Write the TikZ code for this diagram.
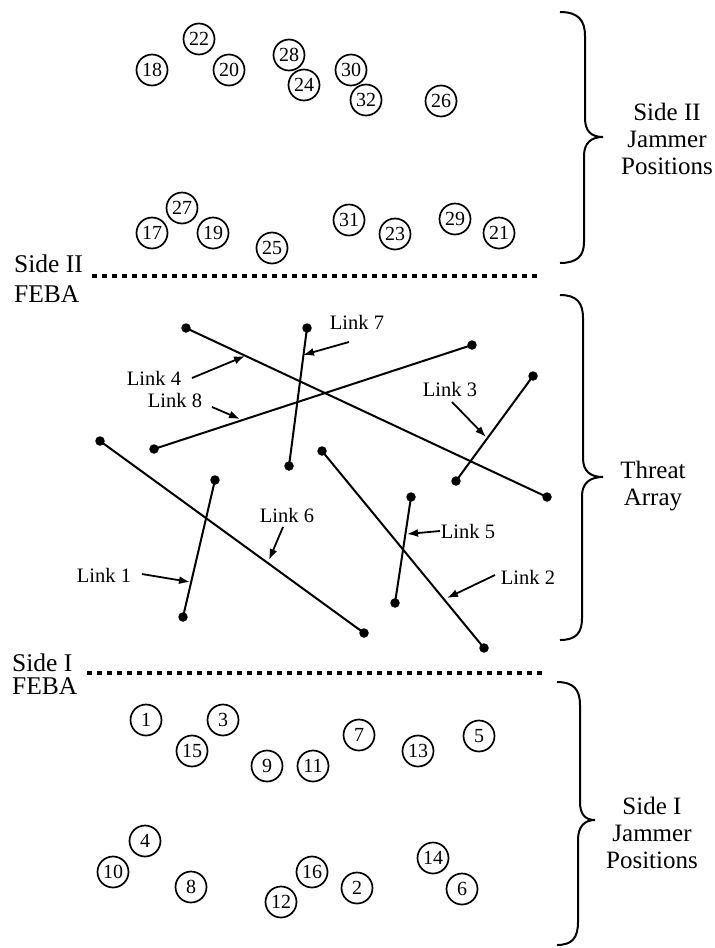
\documentclass[tikz,border=0pt]{standalone}
\usepackage{fontspec}
\setmainfont{Liberation Serif}
\usetikzlibrary{arrows.meta}
\tikzset{
  jam/.style={circle,draw,line width=1.7pt,minimum size=31pt,inner sep=0pt,font=\fontsize{20}{20}\selectfont},
  dotnode/.style={circle,fill,inner sep=0pt,minimum size=9.5pt},
  linkline/.style={line width=2pt},
  lbl/.style={inner sep=0pt,font=\fontsize{20.5}{20.5}\selectfont},
  arr/.style={line width=1.8pt,-{Latex[length=11pt,width=8pt]}},
  feba/.style={line width=4.5pt,dash pattern=on 4.5pt off 5.5pt},
  brace/.style={line width=2pt},
  side/.style={inner sep=0pt,align=center,font=\fontsize{25}{27}\selectfont}
}
\begin{document}
\begin{tikzpicture}[x=1pt,y=-1pt]
\useasboundingbox (0,0) rectangle (715,948);
% Side II jammers
\node[jam] (j22) at (199,39) {22};
\node[jam] (j18) at (152,70) {18};
\node[jam] (j20) at (229,70) {20};
\node[jam] (j28) at (289,55) {28};
\node[jam] (j24) at (304,85) {24};
\node[jam] (j30) at (351,70) {30};
\node[jam] (j32) at (366,100) {32};
\node[jam] (j26) at (441,101) {26};
\node[jam] (j27) at (182,208) {27};
\node[jam] (j17) at (152,233) {17};
\node[jam] (j19) at (213,233) {19};
\node[jam] (j25) at (272,248) {25};
\node[jam] (j31) at (349,220) {31};
\node[jam] (j23) at (395,234) {23};
\node[jam] (j29) at (455,219) {29};
\node[jam] (j21) at (499,233) {21};
% Side I jammers
\node[jam] (j1) at (146,720) {1};
\node[jam] (j3) at (223,720) {3};
\node[jam] (j15) at (192,751) {15};
\node[jam] (j9) at (267,766) {9};
\node[jam] (j11) at (313,766) {11};
\node[jam] (j7) at (359,735) {7};
\node[jam] (j13) at (418,751) {13};
\node[jam] (j5) at (479,736) {5};
\node[jam] (j4) at (145,841) {4};
\node[jam] (j10) at (113,872) {10};
\node[jam] (j8) at (191,887) {8};
\node[jam] (j16) at (312,872) {16};
\node[jam] (j12) at (281,902) {12};
\node[jam] (j2) at (357,888) {2};
\node[jam] (j14) at (433,858) {14};
\node[jam] (j6) at (462,889) {6};
% FEBA lines
\coordinate (f2a) at (92,276);
\coordinate (f2b) at (540,276);
\draw[feba] (f2a) -- (f2b);
\coordinate (f1a) at (87,673);
\coordinate (f1b) at (543,673);
\draw[feba] (f1a) -- (f1b);
\node[inner sep=0pt,align=left,anchor=west,font=\fontsize{25.5}{30}\selectfont] (s2) at (14,279) {Side II\\FEBA};
\node[inner sep=0pt,align=left,anchor=west,font=\fontsize{25.5}{23}\selectfont] (s1) at (12,674) {Side I\\FEBA};
% Link endpoints
\node[dotnode] (a4) at (186,328) {};
\node[dotnode] (b4) at (547,497) {};
\node[dotnode] (a7) at (307,328) {};
\node[dotnode] (b7) at (289,466) {};
\node[dotnode] (a8) at (472,345) {};
\node[dotnode] (b8) at (154,449) {};
\node[dotnode] (a3) at (533,376) {};
\node[dotnode] (b3) at (456,481) {};
\node[dotnode] (a6) at (100,441) {};
\node[dotnode] (b6) at (364,633) {};
\node[dotnode] (a1) at (215,480) {};
\node[dotnode] (b1) at (183,617) {};
\node[dotnode] (a2) at (322,451) {};
\node[dotnode] (b2) at (484,648) {};
\node[dotnode] (a5) at (411,497) {};
\node[dotnode] (b5) at (395,603) {};
\foreach \k in {1,...,8} {\draw[linkline] (a\k.center) -- (b\k.center);}
% Link labels
\node[lbl] (l7) at (357,322) {Link 7};
\node[lbl] (l4) at (154,378) {Link 4};
\node[lbl] (l8) at (175,400) {Link 8};
\node[lbl] (l3) at (450,389) {Link 3};
\node[lbl] (l6) at (287,515) {Link 6};
\node[lbl] (l5) at (468,531) {Link 5};
\node[lbl] (l1) at (104,575) {Link 1};
\node[lbl] (l2) at (528,577) {Link 2};
\coordinate (t7) at (349,342); \coordinate (h7) at (303,355);
\coordinate (t4) at (192,378); \coordinate (h4) at (245,356);
\coordinate (t8) at (212,407); \coordinate (h8) at (240,419);
\coordinate (t3) at (452,402); \coordinate (h3) at (486,437);
\coordinate (t6) at (283,527); \coordinate (h6) at (269,560);
\coordinate (t5) at (440,531); \coordinate (h5) at (407,534);
\coordinate (t1) at (142,574); \coordinate (h1) at (190,582);
\coordinate (t2) at (495,575); \coordinate (h2) at (447,598);
\foreach \k in {1,...,8} {\draw[arr] (t\k) -- (h\k);}
% Braces
\draw[brace] (560,12) .. controls (578,12) and (585,20) .. (585,36) -- (585,118)
  .. controls (585,131) and (591,137) .. (603,137)
  .. controls (591,137) and (584,143) .. (584,156) -- (584,242)
  .. controls (584,256) and (577,263) .. (560,263);
\draw[brace] (560,295) .. controls (577,295) and (583,303) .. (583,318) -- (583,458)
  .. controls (583,471) and (590,477) .. (603,477)
  .. controls (590,477) and (582,483) .. (582,496) -- (582,618)
  .. controls (582,633) and (576,640) .. (560,640);
\draw[brace] (557,682) .. controls (574,682) and (580,690) .. (580,705) -- (580,802)
  .. controls (580,814) and (585,820) .. (595,820)
  .. controls (585,820) and (578,826) .. (578,840) -- (578,922)
  .. controls (578,938) and (572,945) .. (557,945);
\node[side] (r2) at (667,139) {Side II\\Jammer\\Positions};
\node[side] (rt) at (653,486) {Threat\\Array};
\node[side] (r1) at (652,833) {Side I\\Jammer\\Positions};
\end{tikzpicture}
\end{document}
